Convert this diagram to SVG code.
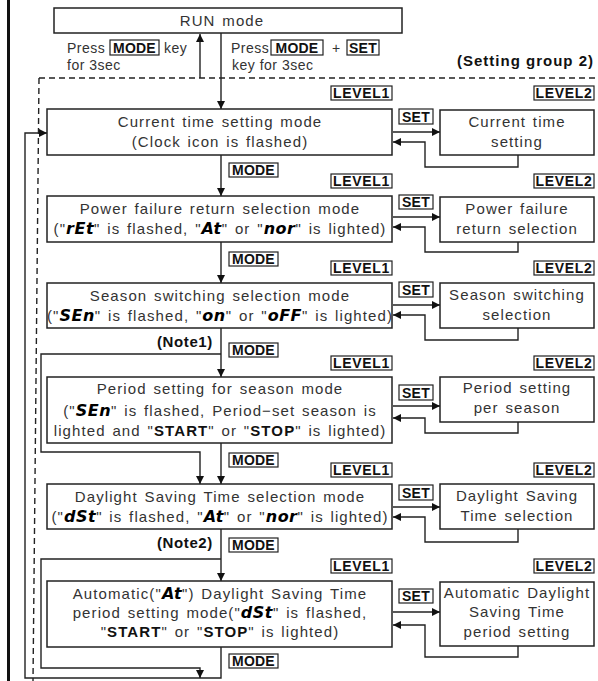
<svg xmlns="http://www.w3.org/2000/svg" width="598" height="681" viewBox="0 0 598 681">
<defs>
<marker id="ah" viewBox="0 0 10 10" refX="10" refY="5" markerWidth="8" markerHeight="8" markerUnits="userSpaceOnUse" orient="auto">
<path d="M0,0 L10,5 L0,10 z" fill="#111"/>
</marker>
<style>
.box{fill:#fff;stroke:#222;stroke-width:1.5}
.lb{fill:#fff;stroke:#222;stroke-width:1.2}
.ln{fill:none;stroke:#222;stroke-width:1.4}
.t{font-family:"Liberation Sans",Arial,sans-serif;font-size:15px;letter-spacing:1.1px;word-spacing:1.5px;fill:#333}
.p{font-size:14px;letter-spacing:0.5px;word-spacing:0}
.m{text-anchor:middle}
.k{font-family:"Liberation Sans",Arial,sans-serif;font-size:14px;font-weight:bold;fill:#111;text-anchor:middle;letter-spacing:0.2px}
.lv{letter-spacing:0.7px}
.n{font-family:"Liberation Sans",Arial,sans-serif;font-size:15px;font-weight:bold;fill:#111;letter-spacing:0.6px}
.s{font-family:"DejaVu Sans",sans-serif;font-size:16px;font-weight:bold;font-style:italic;fill:#000;letter-spacing:0.5px}
.bo{font-weight:bold;fill:#111}
</style>
</defs>
<rect x="7" y="0" width="3" height="681" fill="#111"/>
<g id="connectors">
<line class="ln" x1="39" y1="78" x2="598" y2="78" stroke-dasharray="6,4"/>
<line class="ln" x1="39" y1="78" x2="33" y2="681" stroke-dasharray="6,4"/>
<line class="ln" x1="200" y1="78" x2="200" y2="34" marker-end="url(#ah)"/>
<line class="ln" x1="221" y1="33" x2="221" y2="109" marker-end="url(#ah)"/>
<line class="ln" x1="221" y1="155" x2="221" y2="196" marker-end="url(#ah)"/>
<line class="ln" x1="221" y1="242" x2="221" y2="283" marker-end="url(#ah)"/>
<line class="ln" x1="221" y1="328" x2="221" y2="377" marker-end="url(#ah)"/>
<line class="ln" x1="221" y1="443" x2="221" y2="484" marker-end="url(#ah)"/>
<line class="ln" x1="221" y1="529" x2="221" y2="581" marker-end="url(#ah)"/>
<polyline class="ln" points="221,647 221,678 25,678 25,133 47,133" marker-end="url(#ah)"/>
<polyline class="ln" points="221,354 41,354 41,452 200,452 200,484" marker-end="url(#ah)"/>
<polyline class="ln" points="221,559 41,559 41,668 200,668 200,678" marker-end="url(#ah)"/>
<line class="ln" x1="393" y1="132" x2="440" y2="132" marker-end="url(#ah)"/>
<polyline class="ln" points="518,155 518,167 425,167 425,142 393,142" marker-end="url(#ah)"/>
<line class="ln" x1="393" y1="217" x2="440" y2="217" marker-end="url(#ah)"/>
<polyline class="ln" points="518,242 518,252 425,252 425,227 393,227" marker-end="url(#ah)"/>
<line class="ln" x1="393" y1="305" x2="440" y2="305" marker-end="url(#ah)"/>
<polyline class="ln" points="518,328 518,340 425,340 425,315 393,315" marker-end="url(#ah)"/>
<line class="ln" x1="393" y1="406" x2="440" y2="406" marker-end="url(#ah)"/>
<polyline class="ln" points="518,422 518,433 425,433 425,418 393,418" marker-end="url(#ah)"/>
<line class="ln" x1="393" y1="507" x2="440" y2="507" marker-end="url(#ah)"/>
<polyline class="ln" points="518,529 518,542 425,542 425,517 393,517" marker-end="url(#ah)"/>
<line class="ln" x1="393" y1="612" x2="440" y2="612" marker-end="url(#ah)"/>
<polyline class="ln" points="518,646 518,657 425,657 425,625 393,625" marker-end="url(#ah)"/>
</g>
<g id="run">
<rect class="box" x="54" y="8" width="348" height="25"/>
<text class="t m" x="222" y="26">RUN mode</text>
</g>
<g id="press-labels">
<text class="t p" x="67" y="53">Press</text>
<rect class="lb" x="110" y="40" width="49" height="15"/>
<text class="k" x="134.5" y="52.5">MODE</text>
<text class="t p" x="164" y="53">key</text>
<text class="t p" x="67" y="70">for 3sec</text>
<text class="t p" x="231" y="53">Press</text>
<rect class="lb" x="271" y="40" width="52" height="15"/>
<text class="k" x="297" y="52.5">MODE</text>
<text class="t p" x="332" y="53">+</text>
<rect class="lb" x="347" y="40" width="32" height="15"/>
<text class="k" x="363" y="52.5">SET</text>
<text class="t p" x="232" y="70">key for 3sec</text>
<text class="n" x="594" y="66" text-anchor="end" style="letter-spacing:1px">(Setting group 2)</text>
<text class="n" x="157" y="347">(Note1)</text>
<text class="n" x="157" y="548">(Note2)</text>
</g>
<g id="labels">
<rect class="lb" x="331" y="86" width="61" height="14"/><text class="k lv" x="361.5" y="98">LEVEL1</text>
<rect class="lb" x="534" y="86" width="60" height="14"/><text class="k lv" x="564" y="98">LEVEL2</text>
<rect class="lb" x="331" y="174" width="61" height="14"/><text class="k lv" x="361.5" y="186">LEVEL1</text>
<rect class="lb" x="534" y="174" width="60" height="14"/><text class="k lv" x="564" y="186">LEVEL2</text>
<rect class="lb" x="331" y="261" width="61" height="14"/><text class="k lv" x="361.5" y="273">LEVEL1</text>
<rect class="lb" x="534" y="261" width="60" height="14"/><text class="k lv" x="564" y="273">LEVEL2</text>
<rect class="lb" x="331" y="356" width="61" height="14"/><text class="k lv" x="361.5" y="368">LEVEL1</text>
<rect class="lb" x="534" y="356" width="60" height="14"/><text class="k lv" x="564" y="368">LEVEL2</text>
<rect class="lb" x="331" y="463" width="61" height="14"/><text class="k lv" x="361.5" y="475">LEVEL1</text>
<rect class="lb" x="534" y="463" width="60" height="14"/><text class="k lv" x="564" y="475">LEVEL2</text>
<rect class="lb" x="331" y="559" width="61" height="14"/><text class="k lv" x="361.5" y="571">LEVEL1</text>
<rect class="lb" x="534" y="559" width="60" height="14"/><text class="k lv" x="564" y="571">LEVEL2</text>
<rect class="lb" x="399" y="109" width="34" height="15"/><text class="k" x="416" y="121.5">SET</text>
<rect class="lb" x="399" y="195" width="34" height="14"/><text class="k" x="416" y="207">SET</text>
<rect class="lb" x="399" y="282" width="34" height="15"/><text class="k" x="416" y="294.5">SET</text>
<rect class="lb" x="399" y="385" width="34" height="15"/><text class="k" x="416" y="397.5">SET</text>
<rect class="lb" x="399" y="485" width="34" height="15"/><text class="k" x="416" y="497.5">SET</text>
<rect class="lb" x="399" y="589" width="34" height="14"/><text class="k" x="416" y="601">SET</text>
<rect class="lb" x="229" y="163" width="49" height="14"/><text class="k" x="253.5" y="175">MODE</text>
<rect class="lb" x="229" y="252" width="49" height="14"/><text class="k" x="253.5" y="264">MODE</text>
<rect class="lb" x="229" y="343" width="49" height="14"/><text class="k" x="253.5" y="355">MODE</text>
<rect class="lb" x="229" y="453" width="49" height="14"/><text class="k" x="253.5" y="465">MODE</text>
<rect class="lb" x="229" y="538" width="49" height="14"/><text class="k" x="253.5" y="550">MODE</text>
<rect class="lb" x="229" y="654" width="49" height="14"/><text class="k" x="253.5" y="666">MODE</text>
</g>
<g id="r1-l1">
<rect class="box" x="47" y="109" width="345" height="46"/>
<text class="t m" x="220" y="127">Current time setting mode</text>
<text class="t m" x="220" y="147">(Clock icon is flashed)</text>
</g>
<g id="r1-l2">
<rect class="box" x="440" y="110" width="154" height="45"/>
<text class="t m" x="517" y="127">Current time</text>
<text class="t m" x="517" y="147">setting</text>
</g>
<g id="r2-l1">
<rect class="box" x="47" y="196" width="345" height="46"/>
<text class="t m" x="220" y="214">Power failure return selection mode</text>
<text class="t m" x="220" y="234">("<tspan class="s">rEt</tspan>" is flashed, "<tspan class="s">At</tspan>" or "<tspan class="s">nor</tspan>" is lighted)</text>
</g>
<g id="r2-l2">
<rect class="box" x="440" y="197" width="154" height="45"/>
<text class="t m" x="517" y="214">Power failure</text>
<text class="t m" x="517" y="234">return selection</text>
</g>
<g id="r3-l1">
<rect class="box" x="47" y="283" width="345" height="45"/>
<text class="t m" x="220" y="301">Season switching selection mode</text>
<text class="t m" x="220" y="321">("<tspan class="s">SEn</tspan>" is flashed, "<tspan class="s">on</tspan>" or "<tspan class="s">oFF</tspan>" is lighted)</text>
</g>
<g id="r3-l2">
<rect class="box" x="440" y="283" width="154" height="45"/>
<text class="t m" x="517" y="300">Season switching</text>
<text class="t m" x="517" y="320">selection</text>
</g>
<g id="r4-l1">
<rect class="box" x="47" y="377" width="345" height="66"/>
<text class="t m" x="220" y="394">Period setting for season mode</text>
<text class="t m" x="220" y="416">("<tspan class="s">SEn</tspan>" is flashed, Period−set season is</text>
<text class="t m" x="220" y="436">lighted and "<tspan class="bo">START</tspan>" or "<tspan class="bo">STOP</tspan>" is lighted)</text>
</g>
<g id="r4-l2">
<rect class="box" x="440" y="377" width="154" height="45"/>
<text class="t m" x="517" y="393">Period setting</text>
<text class="t m" x="517" y="413">per season</text>
</g>
<g id="r5-l1">
<rect class="box" x="47" y="484" width="345" height="45"/>
<text class="t m" x="220" y="502">Daylight Saving Time selection mode</text>
<text class="t m" x="220" y="522">("<tspan class="s">dSt</tspan>" is flashed, "<tspan class="s">At</tspan>" or "<tspan class="s">nor</tspan>" is lighted)</text>
</g>
<g id="r5-l2">
<rect class="box" x="440" y="484" width="154" height="45"/>
<text class="t m" x="517" y="501">Daylight Saving</text>
<text class="t m" x="517" y="521">Time selection</text>
</g>
<g id="r6-l1">
<rect class="box" x="47" y="581" width="345" height="66"/>
<text class="t m" x="220" y="599">Automatic("<tspan class="s">At</tspan>") Daylight Saving Time</text>
<text class="t m" x="220" y="618">period setting mode("<tspan class="s">dSt</tspan>" is flashed,</text>
<text class="t m" x="220" y="637">"<tspan class="bo">START</tspan>" or "<tspan class="bo">STOP</tspan>" is lighted)</text>
</g>
<g id="r6-l2">
<rect class="box" x="440" y="582" width="154" height="64"/>
<text class="t m" x="517" y="598">Automatic Daylight</text>
<text class="t m" x="517" y="617">Saving Time</text>
<text class="t m" x="517" y="637">period setting</text>
</g>
</svg>
